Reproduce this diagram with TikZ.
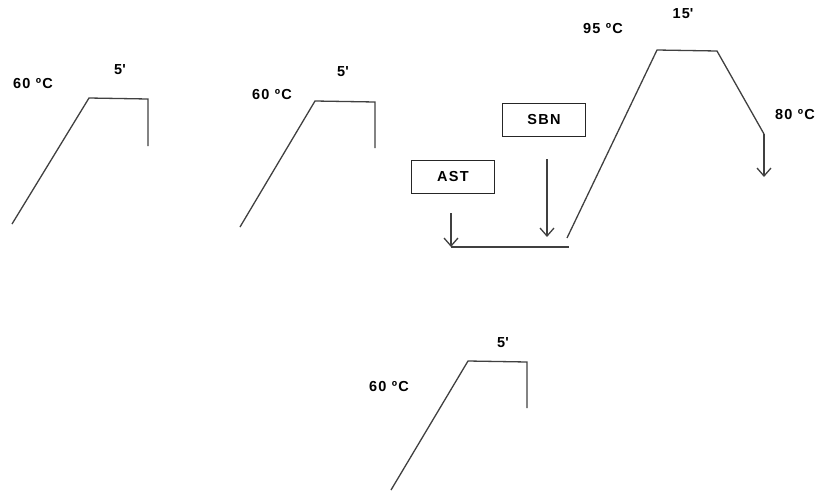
\documentclass[tikz,border=0pt]{standalone}
\usepackage{fontspec}
\setmainfont{Liberation Sans}
\usetikzlibrary{arrows.meta}

\begin{document}
\begin{tikzpicture}[
  x=1pt, y=-1pt,
  lbl/.style={font=\fontsize{14.5}{16}\selectfont\bfseries\addfontfeature{LetterSpace=9}, inner sep=0pt},
  box/.style={draw=black!85, line width=1.3pt, minimum width=83pt, minimum height=33pt, inner sep=0pt,
    font=\fontsize{14.5}{16}\selectfont\bfseries\addfontfeature{LetterSpace=9}},
  ln/.style={draw=black!75, line width=1.3pt},
  arr/.style={ln, -{Straight Barb[length=8pt, width=14pt]}}
]
\useasboundingbox (0,0) rectangle (825,493);
% first ramp
\coordinate (a0) at (12,224);
\coordinate (a1) at (89,98);
\coordinate (a2) at (148,99);
\coordinate (a3) at (148,146);
\draw[ln] (a0) -- (a1) -- (a2) -- (a3);
\node[lbl] (atemp) at (33,84) {60 ºC};
\node[lbl] (atime) at (120,70) {5\textquotesingle};
% second ramp
\coordinate (b0) at (240,227);
\coordinate (b1) at (315,101);
\coordinate (b2) at (375,102);
\coordinate (b3) at (375,148);
\draw[ln] (b0) -- (b1) -- (b2) -- (b3);
\node[lbl] (btemp) at (272,95) {60 ºC};
\node[lbl] (btime) at (343,72) {5\textquotesingle};
% third ramp
\coordinate (c0) at (391,490);
\coordinate (c1) at (468,361);
\coordinate (c2) at (527,362);
\coordinate (c3) at (527,408);
\draw[ln] (c0) -- (c1) -- (c2) -- (c3);
\node[lbl] (ctemp) at (389,387) {60 ºC};
\node[lbl] (ctime) at (503,343) {5\textquotesingle};
% additions and heating
\node[box] (ast) at (453,177) {AST};
\node[box] (sbn) at (544,120) {SBN};
\coordinate (astin) at (451,213);
\coordinate (astout) at (451,247);
\coordinate (base) at (569,247);
\coordinate (sbnin) at (547,159);
\coordinate (sbnout) at (547,237);
\draw[arr] (astin) -- (astout);
\draw[ln] (astout) -- (base);
\draw[arr] (sbnin) -- (sbnout);
\coordinate (h0) at (567,238);
\coordinate (h1) at (657,50);
\coordinate (h2) at (717,51);
\coordinate (h3) at (764,134);
\coordinate (h4) at (764,177);
\draw[ln] (h0) -- (h1) -- (h2) -- (h3);
\draw[arr] (h3) -- (h4);
\node[lbl] (htemp) at (603,29) {95 ºC};
\node[lbl] (htime) at (683,14) {15\textquotesingle};
\node[lbl] (ctemp2) at (795,115) {80 ºC};
\end{tikzpicture}
\end{document}
